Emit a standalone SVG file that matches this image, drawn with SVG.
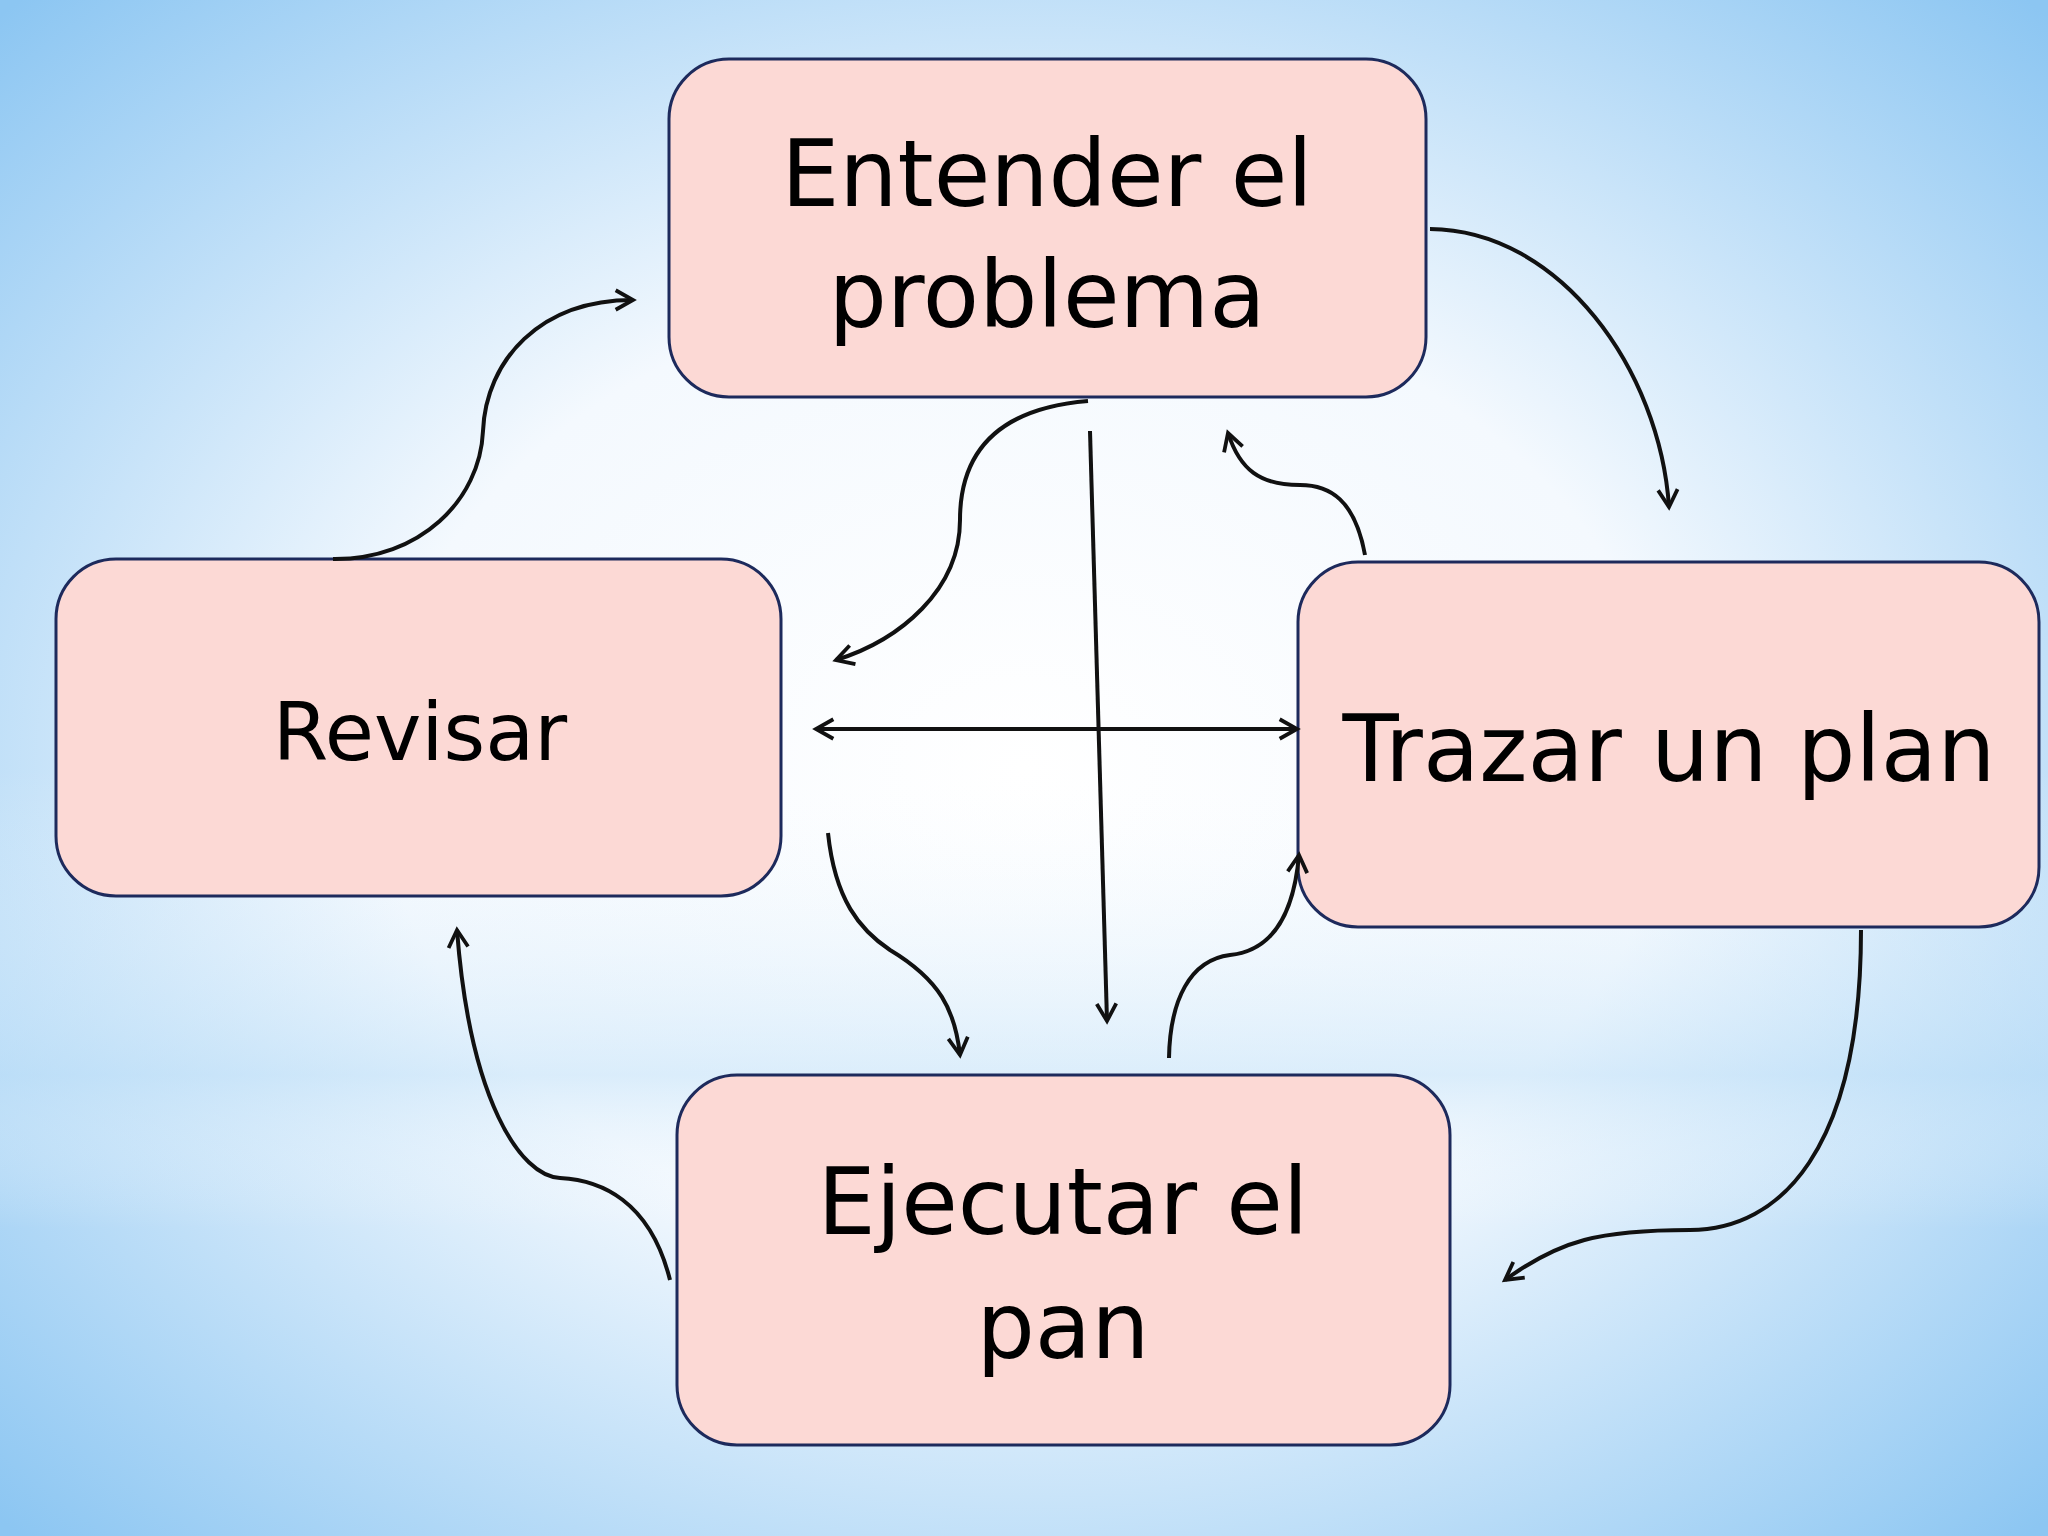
<svg xmlns="http://www.w3.org/2000/svg" width="2048" height="1536" viewBox="0 0 2048 1536">
<defs>
<radialGradient id="bg" cx="50%" cy="50%" r="70%">
<stop offset="0" stop-color="#ffffff"/>
<stop offset="0.45" stop-color="#f4f9fe"/>
<stop offset="1" stop-color="#8cc6f2"/>
</radialGradient>
<linearGradient id="band" x1="0" y1="0" x2="0" y2="1">
<stop offset="0.5" stop-color="#ffffff" stop-opacity="0"/>
<stop offset="0.7" stop-color="#bfe0f8" stop-opacity="0.5"/>
<stop offset="0.8" stop-color="#ffffff" stop-opacity="0"/>
</linearGradient>
<marker id="ah" viewBox="0 0 24 24" refX="20" refY="12" markerWidth="26" markerHeight="26" markerUnits="userSpaceOnUse" orient="auto-start-reverse">
<polyline points="4,3 20,12 4,21" fill="none" stroke="#111" stroke-width="3.5"/>
</marker>
<style>
.box{fill:#fcd9d5;stroke:#1d2a5c;stroke-width:3}
.t{font-family:"DejaVu Sans",sans-serif;fill:#000;text-anchor:middle}
.c{fill:none;stroke:#111;stroke-width:4;marker-end:url(#ah)}
</style>
</defs>
<rect width="2048" height="1536" fill="url(#bg)"/>
<rect width="2048" height="1536" fill="url(#band)"/>
<g id="n1"><rect class="box" x="669" y="59" width="757" height="338" rx="60"/>
<text class="t" x="1047" y="206" font-size="92">Entender el</text>
<text class="t" x="1047" y="327" font-size="92">problema</text></g>
<g id="n2"><rect class="box" x="1298" y="562" width="741" height="365" rx="60"/>
<text class="t" x="1669" y="781" font-size="92">Trazar un plan</text></g>
<g id="n3"><rect class="box" x="677" y="1075" width="773" height="370" rx="60"/>
<text class="t" x="1063" y="1234" font-size="92">Ejecutar el</text>
<text class="t" x="1063" y="1358" font-size="92">pan</text></g>
<g id="n4"><rect class="box" x="56" y="559" width="725" height="337" rx="60"/>
<text class="t" x="420" y="760" font-size="80">Revisar</text></g>
<g id="connectors">
<path class="c" d="M1430,229 C1560,230 1660,370 1669,507"/>
<path class="c" d="M1861,930 C1861,1150 1780,1230 1690,1230 C1600,1230 1560,1240 1505,1280"/>
<path class="c" d="M670,1280 C650,1200 600,1180 560,1178 C520,1176 470,1100 457,930"/>
<path class="c" d="M333,559 C420,560 480,500 483,431 C486,360 540,300 633,300"/>
<path class="c" d="M1088,401 C980,410 960,470 960,520 C960,590 900,640 836,660"/>
<path class="c" d="M1090,431 L1107,1021"/>
<path class="c" d="M816,729 L1297,729" style="marker-start:url(#ah)"/>
<path class="c" d="M1365,555 C1355,500 1330,485 1300,485 C1260,485 1240,470 1228,433"/>
<path class="c" d="M828,833 C835,900 860,930 890,950 C940,980 955,1010 960,1055"/>
<path class="c" d="M1169,1058 C1170,1000 1190,960 1230,955 C1280,950 1295,900 1299,855"/>
</g>
</svg>
